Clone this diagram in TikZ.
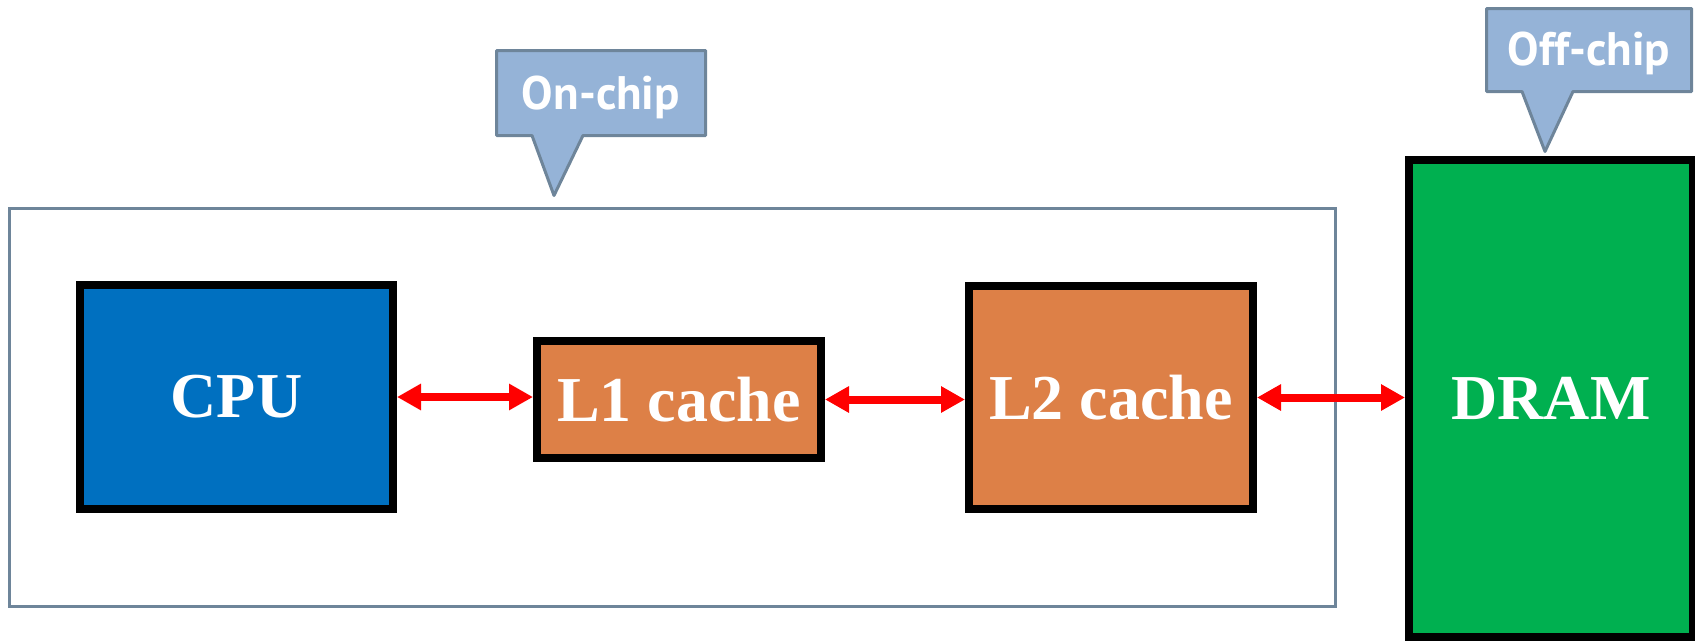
\documentclass[tikz,border=0pt]{standalone}
\usepackage{fontspec}
\setmainfont{Liberation Serif}
\newfontfamily\calloutfont{PT Sans}
\usetikzlibrary{arrows.meta}
\definecolor{cpublue}{RGB}{0,112,192}
\definecolor{cacheorange}{RGB}{221,128,71}
\definecolor{dramgreen}{RGB}{0,176,80}
\definecolor{slate}{RGB}{110,133,154}
\definecolor{tagfill}{RGB}{149,179,215}
\definecolor{linkred}{RGB}{255,0,0}
\tikzset{
  unit/.style={draw=black, line width=8pt, rectangle, inner sep=0pt,
    text=white, font=\bfseries\fontsize{64}{64}\selectfont},
  chipframe/.style={draw=slate, line width=3pt, rectangle, inner sep=0pt},
  tag/.style={draw=slate, fill=tagfill, line width=3pt, line join=round},
  tagtext/.style={text=white, font=\calloutfont\bfseries\fontsize{47}{47}\selectfont, inner sep=0pt},
  link/.style={draw=linkred, line width=8pt,
    {Triangle[length=24pt,width=25pt]}-{Triangle[length=24pt,width=25pt]}}
}
\begin{document}
\begin{tikzpicture}[x=1pt, y=-1pt]
\useasboundingbox (0,0) rectangle (1695,640);

% on-chip region
\node[chipframe, minimum width=1326pt, minimum height=398pt] (chip) at (672.5,407.5) {};

% memory hierarchy blocks
\node[unit, fill=cpublue, minimum width=313pt, minimum height=224pt] (cpu) at (236.5,397) {CPU};
\node[unit, fill=cacheorange, minimum width=284pt, minimum height=117pt] (l1) at (679,399.5) {L1 cache};
\node[unit, fill=cacheorange, minimum width=284pt, minimum height=223pt] (l2) at (1111,397.5) {L2 cache};
\node[unit, fill=dramgreen, minimum width=284pt, minimum height=477pt] (dram) at (1551,398.5) {DRAM};

% links between levels
\draw[link] (cpu.east) -- (cpu.east -| l1.west);
\draw[link] (l1.east) -- (l1.east -| l2.west);
\draw[link] (l2.east) -- (l2.east -| dram.west);

% callout tags
\draw[tag] (496.5,50.5) -- (705.5,50.5) -- (705.5,135.5) -- (583,135.5)
  -- (554,195.5) -- (532,135.5) -- (496.5,135.5) -- cycle;
\node[tagtext] (onchip) at (601,97) {On-chip};

\draw[tag] (1486.5,8.5) -- (1691.5,8.5) -- (1691.5,91.5) -- (1573,91.5)
  -- (1545,151.5) -- (1522,91.5) -- (1486.5,91.5) -- cycle;
\node[tagtext] (offchip) at (1589,53) {Off-chip};
\end{tikzpicture}
\end{document}
